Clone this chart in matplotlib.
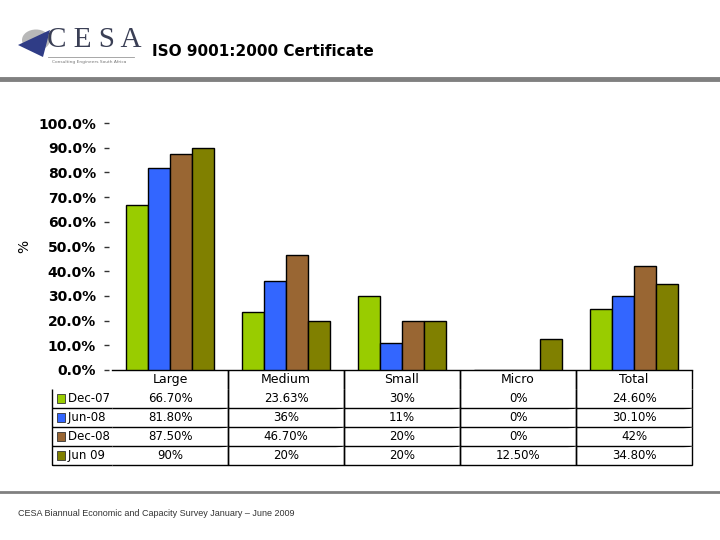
import numpy as np
import matplotlib
matplotlib.use('Agg')
import matplotlib.pyplot as plt
from matplotlib.patches import Circle, Polygon, Rectangle
from matplotlib.lines import Line2D

# data
categories = ['Large', 'Medium', 'Small', 'Micro', 'Total']
series = ['Dec-07', 'Jun-08', 'Dec-08', 'Jun 09']
values = {
    'Dec-07': [66.70, 23.63, 30, 0, 24.60],
    'Jun-08': [81.80, 36, 11, 0, 30.10],
    'Dec-08': [87.50, 46.70, 20, 0, 42],
    'Jun 09': [90, 20, 20, 12.50, 34.80],
}
table_text = [
    ['66.70%', '23.63%', '30%', '0%', '24.60%'],
    ['81.80%', '36%', '11%', '0%', '30.10%'],
    ['87.50%', '46.70%', '20%', '0%', '42%'],
    ['90%', '20%', '20%', '12.50%', '34.80%'],
]
colors = ['#99CC00', '#3366FF', '#996633', '#808000']
y_ticks = np.arange(0, 101, 10)

fig = plt.figure(figsize=(7.2, 5.4), dpi=100)
ax = fig.add_axes([0.1556, 0.315, 0.8056, 0.457])

x = np.arange(len(categories))
w = 0.19
for i, s in enumerate(series):
    ax.bar(x + (i - 1.5) * w, values[s], w, color=colors[i], edgecolor='black', linewidth=1, zorder=3)

# spine position first: moving it resets the ticks
for sp in ['top', 'right', 'left']:
    ax.spines[sp].set_visible(False)
ax.spines['left'].set_position(('outward', 2))
ax.spines['bottom'].set_linewidth(1)

ax.set_xlim(-0.5, 4.5)
ax.set_ylim(0, 100)
ax.set_yticks(y_ticks)
ax.set_yticklabels(['%.1f%%' % v for v in y_ticks])
ax.set_xticks([])
ax.tick_params(axis='y', length=3.5, width=1, pad=6, color='#333333', labelsize=10)
plt.setp(ax.get_yticklabels(), fontweight='bold')
ax.set_ylabel('%', fontsize=10)
ax.yaxis.set_label_coords(-0.14, 0.5)

# data table under the chart (first column holds the series names)
cell_rows = [['    ' + s] + row for s, row in zip(series, table_text)]
tbl = ax.table(cellText=cell_rows, colLabels=[''] + categories, cellLoc='center',
               colWidths=[60 / 640] + [116 / 640] * 5,
               bbox=[-0.1034, -0.3846, 1.1034, 0.3846])
tbl.auto_set_font_size(False)
tbl.set_fontsize(8.5)
for (r, c), cell in tbl.get_celld().items():
    cell.set_linewidth(1)
    if r == 0:
        cell.visible_edges = '' if c == 0 else ('R' if c == 1 else 'LR')
        cell.get_text().set_fontsize(9)
    elif c == 0:
        cell.visible_edges = 'LB'
        cell.get_text().set_ha('left')
        cell.PAD = 0.02
        cell._loc = 'left'
    else:
        cell.visible_edges = 'RB' if c == 1 else 'LRB'

# legend keys in the row labels
row_h = 0.3846 / 5
for i, col in enumerate(colors):
    yc = -0.3846 + row_h * (3 - i) + row_h / 2
    ax.add_patch(Rectangle((-0.0955, yc - 0.018), 0.015, 0.036, transform=ax.transAxes,
                           facecolor=col, edgecolor='#333333', linewidth=0.6, clip_on=False, zorder=5))

# header
fig.text(152 / 720, 1 - 52 / 540, 'ISO 9001:2000 Certificate', fontsize=11, fontweight='bold', va='center')
fig.add_artist(Line2D([0, 1], [1 - 79 / 540] * 2, color='#808080', linewidth=3.5))
fig.add_artist(Line2D([0, 1], [1 - 492 / 540] * 2, color='#808080', linewidth=2))
fig.text(18 / 720, 1 - 514 / 540, 'CESA Biannual Economic and Capacity Survey January \u2013 June 2009',
         fontsize=6.5, family='Liberation Sans', color='#333333', va='center')

# logo
fig.add_artist(Circle((36 / 720, 1 - 40 / 540), 14 / 720, transform=fig.transFigure,
                      facecolor='#B8B8B8', edgecolor='none'))
fig.add_artist(Polygon([(18 / 720, 1 - 45 / 540), (50 / 720, 1 - 30 / 540), (43 / 720, 1 - 57 / 540)],
                       closed=True, transform=fig.transFigure, facecolor='#2F3C86', edgecolor='none'))
fig.text(47 / 720, 1 - 40 / 540, 'C E S A', fontsize=21, family='Liberation Serif', color='#3A3F55', va='center')
fig.add_artist(Line2D([48 / 720, 134 / 720], [1 - 57 / 540] * 2, color='#999999', linewidth=0.6))
fig.text(52 / 720, 1 - 62 / 540, 'Consulting Engineers South Africa', fontsize=3.2, color='#777777', va='center')

fig.savefig('out.png', dpi=100)
